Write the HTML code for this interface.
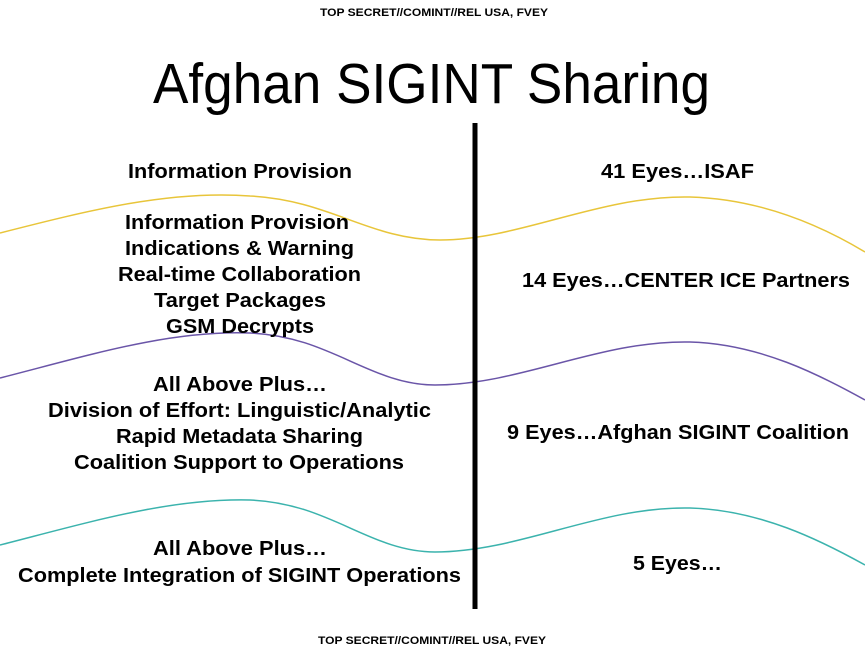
<!DOCTYPE html>
<html><head><meta charset="utf-8"><style>
html,body{margin:0;padding:0;background:#fff;width:865px;height:655px;overflow:hidden}
svg{display:block}
text{font-family:"Liberation Sans",Arial,sans-serif;fill:#000}
.b{font-weight:bold;font-size:20px}
.c{font-weight:bold;font-size:11px}
</style></head><body>
<svg width="865" height="655" viewBox="0 0 865 655" xmlns="http://www.w3.org/2000/svg">
<text class="c" x="320" y="16" textLength="228" lengthAdjust="spacingAndGlyphs">TOP SECRET//COMINT//REL USA, FVEY</text>
<text x="153" y="103" font-size="57" textLength="557" lengthAdjust="spacingAndGlyphs">Afghan SIGINT Sharing</text>

<path d="M0,233 C90,210 170,190 250,196 C330,200 370,240 440,240 C520,240 600,195 690,197 C760,199 820,225 865,252" fill="none" stroke="#e8c53a" stroke-width="1.5"/>
<path d="M0,378 C90,355 170,330 250,333 C330,336 370,385 435,385 C520,385 600,340 690,342 C760,344 820,375 865,400" fill="none" stroke="#6a55a8" stroke-width="1.5"/>
<path d="M0,545 C90,522 170,498 250,500 C330,503 370,552 435,552 C520,552 600,506 690,508 C760,510 820,540 865,565" fill="none" stroke="#3bb3ad" stroke-width="1.5"/>

<rect x="472.5" y="123" width="5" height="486" fill="#000"/>

<text class="b" x="128" y="178" textLength="224" lengthAdjust="spacingAndGlyphs">Information Provision</text>
<text class="b" x="125" y="229" textLength="224" lengthAdjust="spacingAndGlyphs">Information Provision</text>
<text class="b" x="125" y="255" textLength="229" lengthAdjust="spacingAndGlyphs">Indications &amp; Warning</text>
<text class="b" x="118" y="281" textLength="243" lengthAdjust="spacingAndGlyphs">Real-time Collaboration</text>
<text class="b" x="154" y="307" textLength="172" lengthAdjust="spacingAndGlyphs">Target Packages</text>
<text class="b" x="166" y="333" textLength="148" lengthAdjust="spacingAndGlyphs">GSM Decrypts</text>
<text class="b" x="153" y="391" textLength="174" lengthAdjust="spacingAndGlyphs">All Above Plus…</text>
<text class="b" x="48" y="417" textLength="383" lengthAdjust="spacingAndGlyphs">Division of Effort: Linguistic/Analytic</text>
<text class="b" x="116" y="443" textLength="247" lengthAdjust="spacingAndGlyphs">Rapid Metadata Sharing</text>
<text class="b" x="74" y="469" textLength="330" lengthAdjust="spacingAndGlyphs">Coalition Support to Operations</text>
<text class="b" x="153" y="555" textLength="174" lengthAdjust="spacingAndGlyphs">All Above Plus…</text>
<text class="b" x="18" y="582" textLength="443" lengthAdjust="spacingAndGlyphs">Complete Integration of SIGINT Operations</text>

<text class="b" x="601" y="178" textLength="153" lengthAdjust="spacingAndGlyphs">41 Eyes…ISAF</text>
<text class="b" x="522" y="287" textLength="328" lengthAdjust="spacingAndGlyphs">14 Eyes…CENTER ICE Partners</text>
<text class="b" x="507" y="439" textLength="342" lengthAdjust="spacingAndGlyphs">9 Eyes…Afghan SIGINT Coalition</text>
<text class="b" x="633" y="570" textLength="89" lengthAdjust="spacingAndGlyphs">5 Eyes…</text>

<text class="c" x="318" y="644" textLength="228" lengthAdjust="spacingAndGlyphs">TOP SECRET//COMINT//REL USA, FVEY</text>
</svg>
</body></html>
